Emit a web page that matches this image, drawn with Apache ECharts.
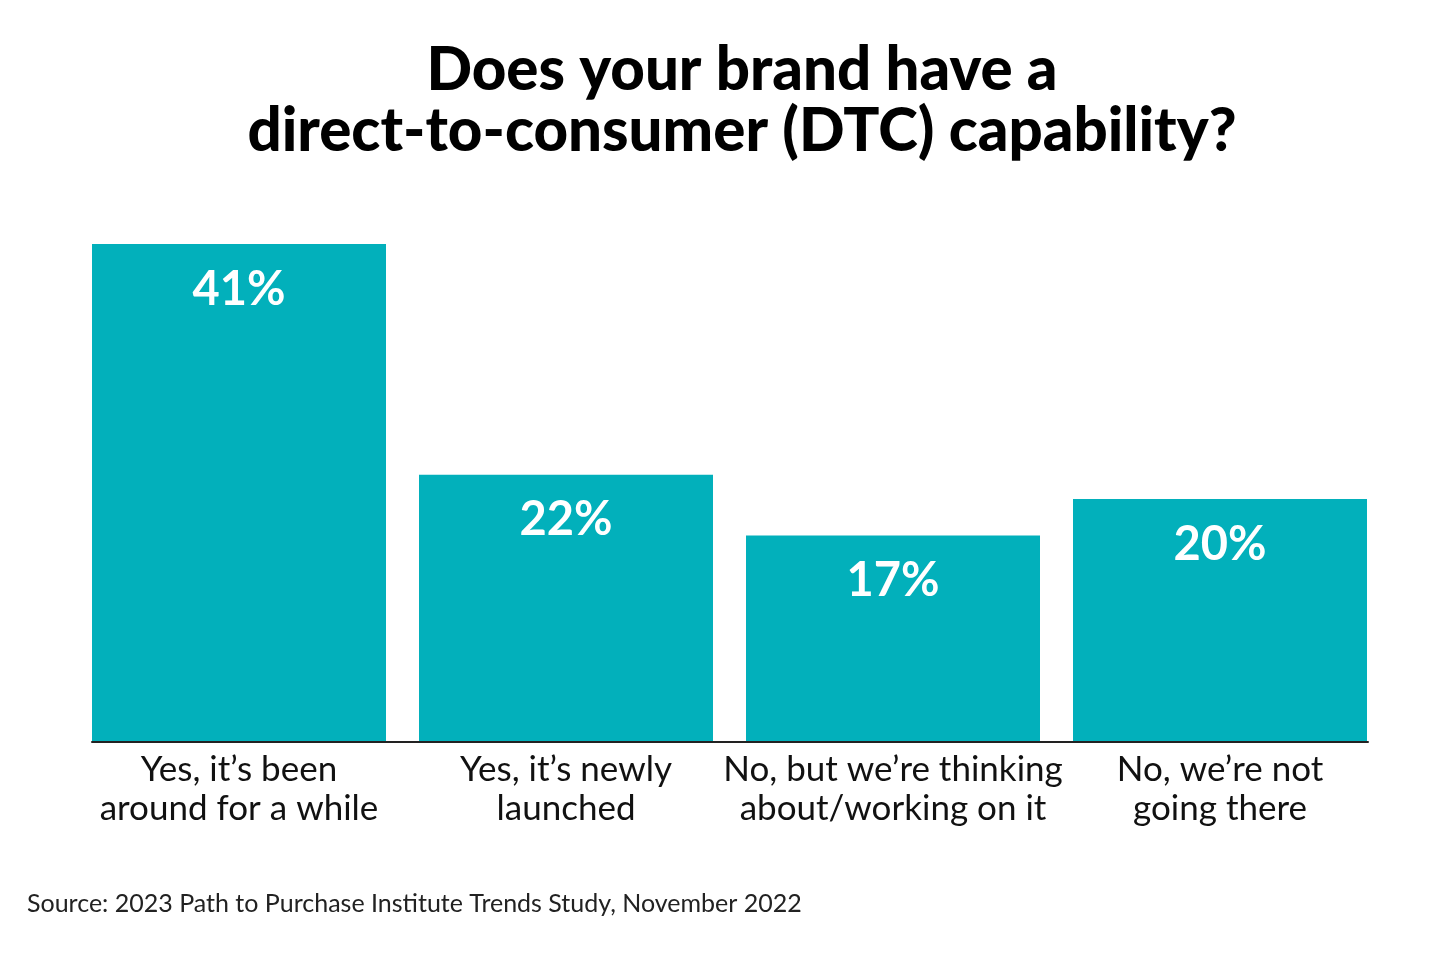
<!DOCTYPE html>
<html>
<head>
<meta charset="utf-8">
<style>html,body{margin:0;padding:0;background:#fff;}#c{width:1440px;height:966px;}</style>
<script src="https://cdn.jsdelivr.net/npm/echarts@6/dist/echarts.min.js"></script>
</head>
<body>
<div id="c"></div>
<script>
const titleText = "Does your brand have a\ndirect-to-consumer (DTC) capability?";
const sourceText = "Source: 2023 Path to Purchase Institute Trends Study, November 2022";
const categories = ["Yes, it\u2019s been\naround for a while", "Yes, it\u2019s newly\nlaunched", "No, but we\u2019re thinking\nabout/working on it", "No, we\u2019re not\ngoing there"];
const values = [41, 22, 17, 20];

const chart = echarts.init(document.getElementById('c'));
const FONT = 'Lato, "Noto Sans", sans-serif';
chart.setOption({
  backgroundColor: '#ffffff',
  animation: false,
  title: [
    { text: titleText, left: 737, textAlign: 'center', top: 35,
      textStyle: { fontFamily: FONT, fontSize: 60, fontWeight: 900, color: '#000', lineHeight: 61 } },
    { text: sourceText, left: 22, top: 886,
      textStyle: { fontFamily: FONT, fontSize: 25, fontWeight: 'normal', color: '#222' } }
  ],
  grid: [
    { left: 75.5, right: 56.5, top: 244, bottom: 224, containLabel: false },
    { left: 92, right: 72, top: 244, bottom: 224, containLabel: false }
  ],
  xAxis: [
    { type: 'category', gridIndex: 0, data: categories,
      axisLine: { show: false }, axisTick: { show: false },
      axisLabel: { fontFamily: FONT, fontSize: 35, color: '#111', lineHeight: 39, margin: 8, interval: 0 } },
    { type: 'category', gridIndex: 1, data: [''],
      axisLine: { show: true, lineStyle: { color: '#222', width: 2 } },
      axisTick: { show: false }, axisLabel: { show: false }, z: 10 }
  ],
  yAxis: [
    { type: 'value', gridIndex: 0, min: 0, max: 41, show: false },
    { type: 'value', gridIndex: 1, min: 0, max: 41, show: false }
  ],
  series: [{
    type: 'bar', xAxisIndex: 0, yAxisIndex: 0,
    data: values, barWidth: 294,
    itemStyle: { color: '#02B0BB' },
    label: { show: true, position: 'insideTop', distance: 22,
      formatter: p => p.value + '%',
      fontFamily: FONT, fontSize: 47, fontWeight: 'bold', color: '#fff' }
  }]
});
</script>
</body>
</html>
